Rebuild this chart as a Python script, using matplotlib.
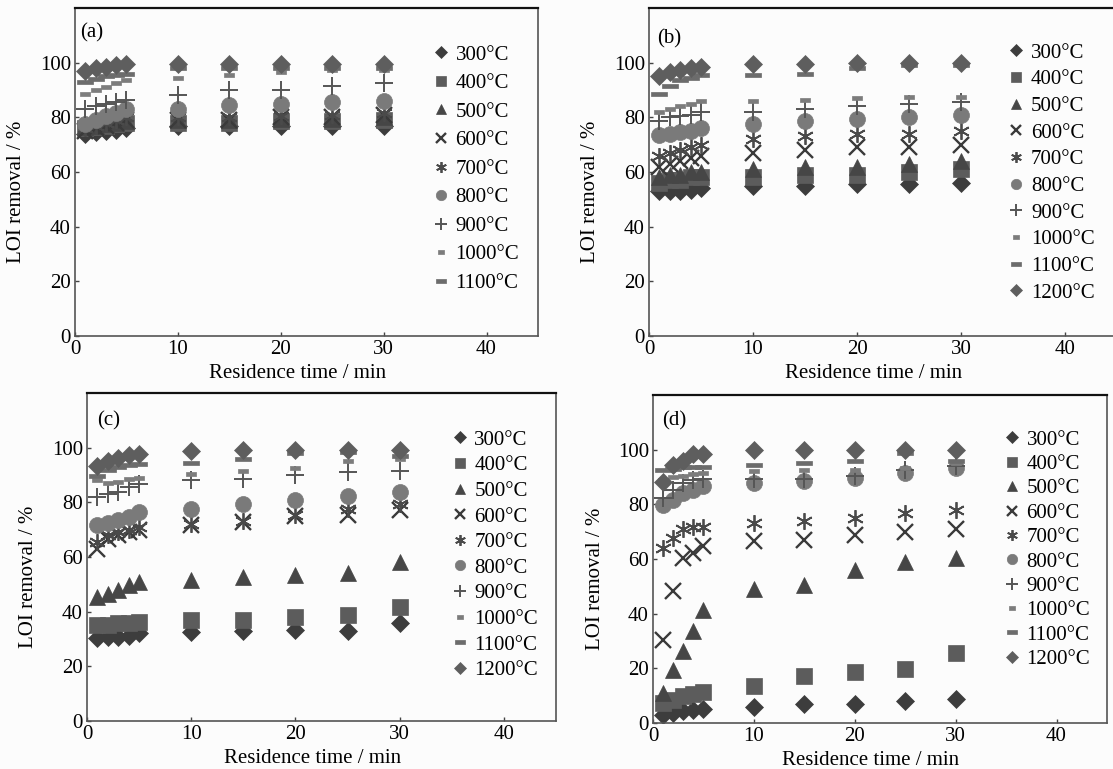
import matplotlib.pyplot as plt
import numpy as np
from matplotlib.path import Path

plt.rcParams['font.family'] = ['Liberation Serif', 'DejaVu Serif']

# residence time (min)
time = [1, 2, 3, 4, 5, 10, 15, 20, 25, 30]
temps = ['300°C', '400°C', '500°C', '600°C', '700°C', '800°C',
         '900°C', '1000°C', '1100°C', '1200°C']

# LOI removal (%), one row per temperature 300..1200 °C
loi_a = [
    [74, 74.5, 75, 75.5, 76, 77, 77, 77, 77, 77],
    [76, 76.5, 77, 77.5, 78, 78, 78, 78.5, 78.5, 79],
    [76.5, 77, 77.5, 78, 78.5, 79, 79, 79.5, 79.5, 80],
    [75, 76, 77, 78, 79, 79, 79, 80, 80, 81],
    [76, 77, 78, 79, 80, 80, 80, 80.5, 81, 81.5],
    [77.5, 79, 80.5, 81.5, 83, 83, 84.5, 85, 85.5, 86],
    [83, 84, 85, 85.5, 86.5, 88, 90, 90, 91.5, 92.5],
    [88.5, 90, 91, 92.5, 93.5, 94.5, 95.5, 96.5, 97.5, 97.5],
    [93, 94, 95, 95.5, 96, 98, 98, 98, 98, 98],
    [97, 98, 98.5, 99, 99.5, 99.5, 99.5, 99.5, 99.5, 99.5],
]
loi_b = [
    [53, 53, 53, 53.5, 54, 55, 55, 55.5, 55.5, 56],
    [56, 57, 57, 58, 58, 58, 59, 59, 60, 61],
    [58, 59, 59, 60, 60, 61, 62, 62, 63, 64],
    [62, 63, 64, 65, 66, 67, 68, 69, 69, 70],
    [66, 67, 68, 69, 70, 72, 73, 74, 74, 75],
    [73.5, 74, 74.5, 75, 76, 77.5, 78.5, 79.5, 80, 81],
    [78.5, 80, 80.5, 81, 82, 82, 83, 84, 85, 85.5],
    [82, 83, 84, 85, 86, 86, 86.5, 87, 87.5, 87.5],
    [88.5, 91.5, 93.5, 94.5, 95.5, 95.5, 96, 98, 99, 99],
    [95, 96.5, 97.5, 98, 98.5, 99.5, 99.5, 100, 100, 100],
]
loi_c = [
    [30.2, 30.6, 30.8, 31.1, 32.3, 32.6, 33, 33.4, 33, 36],
    [35, 35.3, 35.7, 35.9, 36.3, 36.9, 36.9, 38.1, 38.7, 41.7],
    [45.4, 46.6, 48, 49.7, 50.9, 51.5, 52.7, 53.3, 54.2, 58.2],
    [63, 66.7, 68, 69.2, 69.8, 71.6, 72.8, 74.9, 75.3, 77.1],
    [65.5, 68, 69, 70, 71, 72.2, 73.2, 75.3, 77.7, 79.5],
    [71.6, 72.5, 73.4, 74.6, 76.5, 77.7, 79.5, 80.7, 82.2, 83.8],
    [82, 83.2, 83.8, 85.6, 86.8, 88, 88.7, 90, 91.1, 91.4],
    [88, 87, 87.5, 88.5, 89, 90.5, 91.5, 92.5, 95, 96],
    [89.5, 92, 93, 93.5, 94, 94.5, 96, 98, 98.5, 97],
    [93.2, 95, 96.3, 97.2, 97.8, 98.6, 99.3, 99.3, 99.3, 99.3],
]
loi_d = [
    [3.0, 3.7, 4.3, 4.9, 5.1, 5.9, 7.1, 7.1, 7.9, 8.6],
    [7.3, 8.5, 10, 10.7, 11.2, 13.7, 17.3, 18.7, 19.7, 25.6],
    [10.9, 19.5, 26.2, 33.5, 41.4, 49, 50.6, 55.8, 58.8, 60.4],
    [30.5, 48.2, 60.4, 62.2, 64.6, 66.5, 67.1, 68.9, 69.8, 71],
    [64, 67.7, 70.8, 71.7, 71.7, 73.2, 73.8, 75, 76.8, 78],
    [79.9, 81.7, 84.2, 85.4, 86.6, 87.8, 88.4, 89.6, 91.5, 93.3],
    [82.3, 85.4, 87.8, 89, 89.3, 89.3, 89.3, 90.3, 92.7, 94.1],
    [89, 90, 90.5, 91, 91.5, 92.1, 92.5, 92.7, 93.3, 95],
    [92.7, 93, 93.5, 93.5, 93.5, 94.5, 95.1, 95.7, 98.8, 95.7],
    [88, 94.5, 95.7, 98.5, 98.5, 99.8, 99.8, 99.8, 99.8, 99.8],
]

# marker shapes for the two dash symbols
short_bar = Path([(-1, -0.5), (1, -0.5), (1, 0.5), (-1, 0.5), (-1, -0.5)],
                 [Path.MOVETO, Path.LINETO, Path.LINETO, Path.LINETO, Path.CLOSEPOLY])
long_bar = Path([(-1, -0.28), (1, -0.28), (1, 0.28), (-1, 0.28), (-1, -0.28)],
                [Path.MOVETO, Path.LINETO, Path.LINETO, Path.LINETO, Path.CLOSEPOLY])

styles = [
    dict(marker='D', ms=9.5, color='#3d3d3d'),
    dict(marker='s', ms=11, color='#5c5c5c'),
    dict(marker='^', ms=11, color='#464646'),
    dict(marker='x', ms=11, color='#3a3a3a', mew=1.7),
    dict(marker=(6, 2, 0), ms=12, color='#4a4a4a', mew=1.3),
    dict(marker='o', ms=11.5, color='#7a7a7a'),
    dict(marker='+', ms=13, color='#555555', mew=1.4),
    dict(marker=short_bar, ms=7, color='#7c7c7c'),
    dict(marker=long_bar, ms=12, color='#6c6c6c'),
    dict(marker='D', ms=9.5, color='#5e5e5e'),
]

FS = 15


def draw_panel(ax, data, tag, n_legend, leg_xy, leg_space, tag_xy):
    for i, vals in enumerate(data):
        st = styles[i]
        label = temps[i] if i < n_legend else '_nolegend_'
        ax.plot(time, vals, linestyle='none', marker=st['marker'],
                markersize=st['ms'], color=st['color'],
                markeredgewidth=st.get('mew', 0.5), label=label)
    ax.set_xlim(0, 45)
    ax.set_ylim(0, 120)
    ax.set_xticks([0, 10, 20, 30, 40])
    ax.set_yticks([0, 20, 40, 60, 80, 100])
    ax.tick_params(direction='in', length=3, width=1, labelsize=FS,
                   color='#444444', pad=3)
    for side in ['left', 'bottom', 'right']:
        ax.spines[side].set_color('#555555')
        ax.spines[side].set_linewidth(1.2)
    ax.spines['top'].set_color('#111111')
    ax.spines['top'].set_linewidth(1.6)
    ax.set_facecolor('#fcfcfc')
    ax.set_xlabel('Residence time / min', fontsize=FS)
    ax.set_ylabel('LOI removal / %', fontsize=FS)
    ax.xaxis.set_label_coords(0.48, -0.085)
    ax.yaxis.set_label_coords(-0.105, 0.44)
    ax.text(tag_xy[0], tag_xy[1], tag, transform=ax.transAxes, fontsize=FS,
            va='center', ha='left')
    ax.legend(loc='upper left', bbox_to_anchor=leg_xy, frameon=False,
              fontsize=FS, markerscale=0.65, handlelength=0.9,
              handletextpad=0.25, labelspacing=leg_space, borderpad=0,
              borderaxespad=0)


fig = plt.figure(figsize=(11.13, 7.69), dpi=100, facecolor='#fcfcfc')
W, H = 1113, 769

# axes boxes in pixels: left, right, top, bottom
boxes = {
    'a': (75, 538, 8, 336),
    'b': (649, 1117, 8, 336),
    'c': (87, 556, 393, 721),
    'd': (653, 1107, 395, 723),
}
axes = {}
for k, (l, r, t, b) in boxes.items():
    axes[k] = fig.add_axes([l / W, 1 - b / H, (r - l) / W, (b - t) / H])

draw_panel(axes['a'], loi_a, '(a)', 9, (0.77, 0.887), 0.43, (0.012, 0.925))
draw_panel(axes['b'], loi_b, '(b)', 10, (0.765, 0.893), 0.34, (0.017, 0.905))
draw_panel(axes['c'], loi_c, '(c)', 10, (0.775, 0.887), 0.29, (0.021, 0.915))
draw_panel(axes['d'], loi_d, '(d)', 10, (0.77, 0.893), 0.23, (0.02, 0.92))

fig.savefig('out.png', dpi=100, facecolor=fig.get_facecolor())
